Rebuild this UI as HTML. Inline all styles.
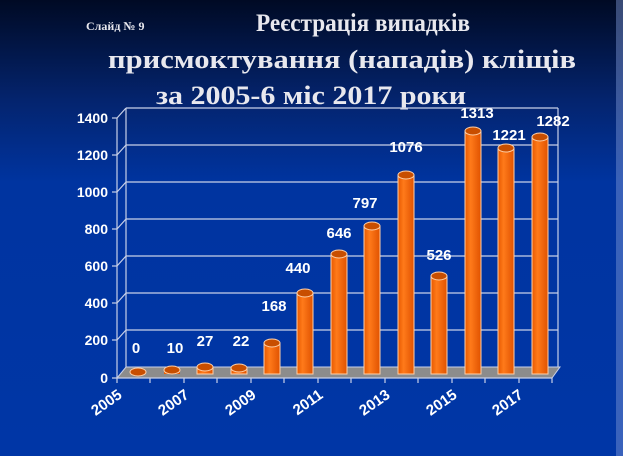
<!DOCTYPE html>
<html><head><meta charset="utf-8"><style>
html,body{margin:0;padding:0;}
body{width:623px;height:456px;overflow:hidden;background:#0033a0;}
svg{display:block}
</style></head><body>
<svg width="623" height="456" viewBox="0 0 623 456" xmlns="http://www.w3.org/2000/svg">
<defs>
<linearGradient id="bg" x1="0" y1="0" x2="0" y2="1">
<stop offset="0" stop-color="#000a24"/>
<stop offset="0.22" stop-color="#04246e"/>
<stop offset="0.4" stop-color="#0034a0"/>
<stop offset="1" stop-color="#0036a6"/>
</linearGradient>
<linearGradient id="bar" x1="0" y1="0" x2="1" y2="0">
<stop offset="0" stop-color="#e85a00"/>
<stop offset="0.35" stop-color="#ff7a1a"/>
<stop offset="1" stop-color="#e05200"/>
</linearGradient>
</defs>
<rect width="623" height="456" fill="url(#bg)"/>
<rect x="616" y="0" width="7" height="456" fill="#7f98d8" opacity="0.45"/>
<g font-family="Liberation Serif, serif" font-weight="bold" fill="#e8e8ee">
<text x="86" y="30" font-size="12">Слайд № 9</text>
<text x="256" y="31" font-size="25" textLength="214" lengthAdjust="spacingAndGlyphs">Реєстрація випадків</text>
<text x="108" y="68" font-size="26" textLength="468" lengthAdjust="spacingAndGlyphs">присмоктування (нападів) кліщів</text>
<text x="156" y="104" font-size="26" textLength="310" lengthAdjust="spacingAndGlyphs">за 2005-6 міс 2017 роки</text>
</g>
<g stroke="#c8d0e8" stroke-width="1.2" fill="none">
<line x1="558" y1="108" x2="558" y2="367"/>
<line x1="126" y1="108" x2="126" y2="367"/>
<line x1="117" y1="118" x2="117" y2="378"/>
</g>
<g stroke="#c8d0e8" stroke-width="1.2">
<line x1="117" y1="118" x2="126" y2="108"/><line x1="126" y1="108" x2="558" y2="108"/><line x1="112" y1="118" x2="117" y2="118"/>
<line x1="117" y1="155" x2="126" y2="145"/><line x1="126" y1="145" x2="558" y2="145"/><line x1="112" y1="155" x2="117" y2="155"/>
<line x1="117" y1="192" x2="126" y2="182"/><line x1="126" y1="182" x2="558" y2="182"/><line x1="112" y1="192" x2="117" y2="192"/>
<line x1="117" y1="229" x2="126" y2="219"/><line x1="126" y1="219" x2="558" y2="219"/><line x1="112" y1="229" x2="117" y2="229"/>
<line x1="117" y1="266" x2="126" y2="256"/><line x1="126" y1="256" x2="558" y2="256"/><line x1="112" y1="266" x2="117" y2="266"/>
<line x1="117" y1="303" x2="126" y2="293"/><line x1="126" y1="293" x2="558" y2="293"/><line x1="112" y1="303" x2="117" y2="303"/>
<line x1="117" y1="340" x2="126" y2="330"/><line x1="126" y1="330" x2="558" y2="330"/><line x1="112" y1="340" x2="117" y2="340"/>
</g>
<polygon points="117,378 126,367 560,367 552,378" fill="#8c8c8c" stroke="#c8d0e8" stroke-width="1"/>
<line x1="112" y1="378" x2="552" y2="378" stroke="#c8d0e8" stroke-width="1.2"/>
<g stroke="#c8d0e8" stroke-width="1.2">
<line x1="117" y1="378" x2="117" y2="383"/><line x1="150" y1="378" x2="150" y2="383"/><line x1="184" y1="378" x2="184" y2="383"/><line x1="217" y1="378" x2="217" y2="383"/><line x1="251" y1="378" x2="251" y2="383"/><line x1="284" y1="378" x2="284" y2="383"/><line x1="318" y1="378" x2="318" y2="383"/><line x1="351" y1="378" x2="351" y2="383"/><line x1="385" y1="378" x2="385" y2="383"/><line x1="418" y1="378" x2="418" y2="383"/><line x1="452" y1="378" x2="452" y2="383"/><line x1="485" y1="378" x2="485" y2="383"/><line x1="519" y1="378" x2="519" y2="383"/><line x1="552" y1="378" x2="552" y2="383"/>
</g>
<g font-family="Liberation Sans, sans-serif" font-weight="bold" font-size="14" fill="#ffffff" text-anchor="end">
<text x="108" y="123">1400</text><text x="108" y="160">1200</text><text x="108" y="197">1000</text>
<text x="108" y="234">800</text><text x="108" y="271">600</text><text x="108" y="308">400</text>
<text x="108" y="345">200</text><text x="108" y="383">0</text>
</g>
<g stroke="#ffd0a8" stroke-width="1">
<rect x="130" y="372" width="16" height="2" fill="url(#bar)" stroke="none"/><ellipse cx="138" cy="372" rx="8" ry="4" fill="#c84e00"/>
<rect x="164" y="370" width="16" height="4" fill="url(#bar)" stroke="none"/><ellipse cx="172" cy="370" rx="8" ry="4" fill="#c84e00"/>
<rect x="197" y="367" width="16" height="7" fill="url(#bar)"/><ellipse cx="205" cy="367" rx="8" ry="4" fill="#c84e00"/>
<rect x="231" y="368" width="16" height="6" fill="url(#bar)"/><ellipse cx="239" cy="368" rx="8" ry="4" fill="#c84e00"/>
<rect x="264" y="343" width="16" height="31" fill="url(#bar)"/><ellipse cx="272" cy="343" rx="8" ry="4" fill="#c84e00"/>
<rect x="297" y="293" width="16" height="81" fill="url(#bar)"/><ellipse cx="305" cy="293" rx="8" ry="4" fill="#c84e00"/>
<rect x="331" y="254" width="16" height="120" fill="url(#bar)"/><ellipse cx="339" cy="254" rx="8" ry="4" fill="#c84e00"/>
<rect x="364" y="226" width="16" height="148" fill="url(#bar)"/><ellipse cx="372" cy="226" rx="8" ry="4" fill="#c84e00"/>
<rect x="398" y="175" width="16" height="199" fill="url(#bar)"/><ellipse cx="406" cy="175" rx="8" ry="4" fill="#c84e00"/>
<rect x="431" y="276" width="16" height="98" fill="url(#bar)"/><ellipse cx="439" cy="276" rx="8" ry="4" fill="#c84e00"/>
<rect x="465" y="131" width="16" height="243" fill="url(#bar)"/><ellipse cx="473" cy="131" rx="8" ry="4" fill="#c84e00"/>
<rect x="498" y="148" width="16" height="226" fill="url(#bar)"/><ellipse cx="506" cy="148" rx="8" ry="4" fill="#c84e00"/>
<rect x="532" y="137" width="16" height="237" fill="url(#bar)"/><ellipse cx="540" cy="137" rx="8" ry="4" fill="#c84e00"/>
</g>
<g font-family="Liberation Sans, sans-serif" font-weight="bold" font-size="15" fill="#ffffff" text-anchor="middle">
<text x="136" y="353">0</text><text x="175" y="353">10</text><text x="205" y="346">27</text>
<text x="241" y="346">22</text><text x="274" y="311">168</text><text x="298" y="273">440</text>
<text x="339" y="238">646</text><text x="365" y="208">797</text><text x="406" y="152">1076</text>
<text x="439" y="260">526</text><text x="477" y="118">1313</text><text x="509" y="140">1221</text>
<text x="553" y="126">1282</text>
</g>
<g font-family="Liberation Sans, sans-serif" font-weight="bold" font-size="15" fill="#ffffff" text-anchor="end">
<text transform="translate(123,397) rotate(-35)">2005</text>
<text transform="translate(190,397) rotate(-35)">2007</text>
<text transform="translate(257,397) rotate(-35)">2009</text>
<text transform="translate(324,397) rotate(-35)">2011</text>
<text transform="translate(391,397) rotate(-35)">2013</text>
<text transform="translate(458,397) rotate(-35)">2015</text>
<text transform="translate(524,397) rotate(-35)">2017</text>
</g>
</svg>
</body></html>
